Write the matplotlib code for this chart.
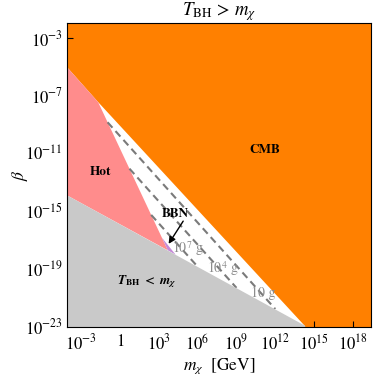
import matplotlib.pyplot as plt
import numpy as np

plt.rcParams['font.family'] = 'STIXGeneral'
plt.rcParams['mathtext.fontset'] = 'stix'

# all values are log10(m_chi / GeV) and log10(beta)
x_lo, x_hi = -4.1, 19.4
y_lo, y_hi = -23.05, -1.96

# CMB exclusion, lower edge
cmb_logm = [-4.08, -1.69, 14.3]
cmb_logb = [-5.04, -7.45, -23.0]

# hot DM region
hot_logm = [-4.08, -1.69, 3.70, -4.08]
hot_logb = [-5.04, -7.45, -17.74, -13.93]

# T_BH = m_chi edge
cold_logm = [-4.08, 14.3]
cold_logb = [-13.93, -22.97]

# small BBN sliver
bbn_logm = [3.25, 3.70, 4.30]
bbn_logb = [-16.87, -17.74, -18.04]

# constant M_BH lines
mass_labels = ['10 g', '10$^4$ g', '10$^7$ g']
start_logm = [-0.96, 0.73, 2.41]
start_logb = [-8.85, -12.07, -15.28]
end_logm = [12.0, 9.0, 6.0]
end_logb = [-21.81, -20.34, -18.87]
label_logm = [11.05, 7.96, 5.26]
label_logb = [-20.71, -19.03, -17.65]


def p(v):
    return 10.0 ** np.array(v)


fig = plt.figure(figsize=(3.74, 3.77), dpi=100)
ax = fig.add_axes([0.179, 0.133, 0.813, 0.806])
ax.set_xscale('log')
ax.set_yscale('log')

# orange
ox = cmb_logm + [cmb_logm[-1], x_hi + 1, x_hi + 1, x_lo - 1, x_lo - 1]
oy = cmb_logb + [y_lo - 1, y_lo - 1, y_hi + 1, y_hi + 1, cmb_logb[0]]
ax.fill(p(ox), p(oy), color='#ff8000', lw=0, zorder=1)

# gray
gx = [x_lo - 1] + cold_logm + [cold_logm[-1] + 0.3, x_lo - 1]
gy = [cold_logb[0] + 0.49 * 0.92] + cold_logb + [y_lo - 1, y_lo - 1]
ax.fill(p(gx), p(gy), color='#c9c9c9', lw=0, zorder=3)

# pink
ax.fill(p(hot_logm), p(hot_logb), color='#ff8c8c', lw=0, zorder=2)
ax.fill(p(bbn_logm), p(bbn_logb), color='#c58ad8', lw=0, zorder=2)

for i in range(3):
    ax.plot(p([start_logm[i], end_logm[i]]), p([start_logb[i], end_logb[i]]),
            color='#7a7a7a', lw=1.5, ls=(0, (3.5, 2.2)), zorder=2)
    ax.text(p(label_logm[i]), p(label_logb[i]), mass_labels[i], color='#8c8c8c',
            fontsize=10, ha='center', va='center', zorder=4)

ax.text(p(11.2), p(-10.75), 'CMB', fontsize=9.5, fontweight='bold',
        ha='center', va='center', zorder=4)
ax.text(p(-1.53), p(-12.28), 'Hot', fontsize=9.5, fontweight='bold',
        ha='center', va='center', zorder=4)
ax.text(p(4.26), p(-15.2), 'BBN', fontsize=9.5, fontweight='bold',
        ha='center', va='center', zorder=4)
ax.text(p(2.1), p(-19.94), r'$\boldsymbol{T}_{\mathbf{BH}}\ \mathbf{<}\ \boldsymbol{m}_{\boldsymbol{\chi}}$',
        fontsize=9.5, ha='center', va='center', zorder=4)
ax.annotate('', xy=(p(3.64), p(-17.45)), xytext=(p(5.0), p(-15.55)),
            arrowprops=dict(arrowstyle='-|>', color='black', lw=1.0,
                            mutation_scale=10), zorder=5)

ax.set_xlim(p(x_lo), p(x_hi))
ax.set_ylim(p(y_lo), p(y_hi))
ax.set_xticks(p([-3, 0, 3, 6, 9, 12, 15, 18]))
ax.set_xticklabels([r'$10^{-3}$', '1', r'$10^{3}$', r'$10^{6}$', r'$10^{9}$',
                    r'$10^{12}$', r'$10^{15}$', r'$10^{18}$'])
ax.set_yticks(p([-3, -7, -11, -15, -19, -23]))
ax.set_yticklabels([r'$10^{-3}$', r'$10^{-7}$', r'$10^{-11}$', r'$10^{-15}$',
                    r'$10^{-19}$', r'$10^{-23}$'])
ax.minorticks_off()
ax.tick_params(direction='in', length=4, width=0.8, labelsize=12, pad=3)
ax.tick_params(axis='x', pad=5)
for s in ax.spines.values():
    s.set_zorder(6)

ax.set_title(r'$T_{\rm BH}\,>\,m_\chi$', fontsize=13.5, pad=3)
ax.set_xlabel(r'$m_\chi$  [GeV]', fontsize=12.5, labelpad=2)
ax.set_ylabel(r'$\beta$', fontsize=12.5)
ax.yaxis.set_label_coords(-0.12, 0.5)

fig.savefig('out.png', dpi=100)
